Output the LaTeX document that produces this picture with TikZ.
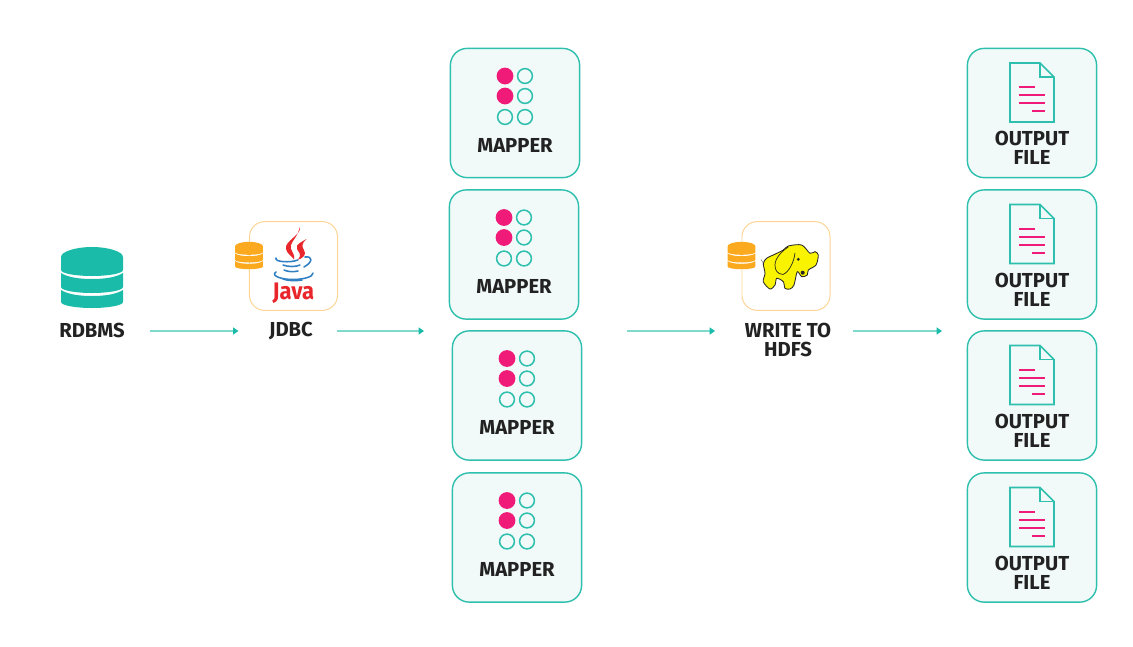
\documentclass[tikz,border=0pt]{standalone}
\usepackage{fontspec}
\setmainfont{Fira Sans}
\usetikzlibrary{arrows.meta}
\definecolor{tealdark}{HTML}{1ABCA9}
\definecolor{tealline}{HTML}{2EBFAE}
\definecolor{tealpale}{HTML}{7FD9CD}
\definecolor{tilefill}{HTML}{F1FAF8}
\definecolor{pinkdot}{HTML}{F01A78}
\definecolor{orangedb}{HTML}{FBA91F}
\definecolor{orangeline}{HTML}{FCD594}
\definecolor{labeltext}{HTML}{222222}
\definecolor{javared}{HTML}{E8262B}
\definecolor{javablue}{HTML}{2F80C2}
\definecolor{hadoopyellow}{HTML}{F9F300}
\tikzset{
    tile/.style={draw=tealline,fill=tilefill,line width=1pt,rounded corners=0.42cm,minimum width=3.23cm,minimum height=3.23cm,inner sep=0pt},
    logotile/.style={draw=orangeline,fill=white,line width=0.7pt,rounded corners=0.38cm,minimum width=2.2cm,minimum height=2.22cm,inner sep=0pt},
    tilelabel/.style={font=\fontsize{14.4}{13.5}\selectfont\bfseries,text=labeltext,align=center,inner sep=0pt},
    flow/.style={draw=tealpale,line width=0.9pt,-{Triangle[length=3.8pt,width=5pt,color=tealdark]}},
    dot/.style={draw=tealline,line width=1.1pt},
    javacup/.style={draw=javablue,line width=1.1pt,line cap=round},
    dbicon/.pic={
        \fill[pic actions] (-31,-20.5) .. controls (-31,-26) and (-16,-30.5) .. (0,-30.5) .. controls (16,-30.5) and (31,-26) .. (31,-20.5) -- (31,-7.5) .. controls (31,-4) and (16,-1.5) .. (0,-1.5) .. controls (-16,-1.5) and (-31,-4) .. (-31,-7.5) -- cycle;
        \fill[pic actions] (-31,-4.5) .. controls (-24,0) and (-12,1.5) .. (0,1.5) .. controls (12,1.5) and (24,0) .. (31,-4.5) -- (31,9.5) .. controls (31,13) and (16,15.5) .. (0,15.5) .. controls (-16,15.5) and (-31,13) .. (-31,9.5) -- cycle;
        \fill[pic actions] (-31,12.5) .. controls (-24,17) and (-12,18.5) .. (0,18.5) .. controls (12,18.5) and (24,17) .. (31,12.5) -- (31,24.5) .. controls (31,28) and (16,30.5) .. (0,30.5) .. controls (-16,30.5) and (-31,28) .. (-31,24.5) -- cycle;
    },
    mappericon/.pic={
        \fill[pinkdot] (-10,-37) circle (8.4);
        \fill[pinkdot] (-10,-17) circle (8.4);
        \draw[dot] (10,-37) circle (7.4);
        \draw[dot] (10,-17) circle (7.4);
        \draw[dot] (-10,4) circle (7.4);
        \draw[dot] (10,4) circle (7.4);
    },
    fileicon/.pic={
        \draw[dot,line join=miter] (-22,-50) -- (8,-50) -- (22,-36) -- (22,9) -- (-22,9) -- cycle;
        \draw[dot,line join=miter] (8,-50) -- (8,-36) -- (22,-36);
        \fill[pinkdot] (-13,-27) rectangle (3,-25);
        \fill[pinkdot] (-13,-19) rectangle (13,-17);
        \fill[pinkdot] (-13,-11) rectangle (13,-9);
        \fill[pinkdot] (0,-3) rectangle (13,-1);
    }
}
\begin{document}
\begin{tikzpicture}[x=0.025cm,y=-0.025cm]
    \useasboundingbox (0,0) rectangle (1133,646);
    \pic[fill=tealdark] at (92,277.5) {dbicon};
    \node[tilelabel] (rdbmslabel) at (92,330) {RDBMS};

    \node[logotile] (jdbc) at (293.5,266) {};
    \pic[fill=orangedb,scale=0.45] at (249,255.5) {dbicon};
    \fill[javared] (300,226.5) .. controls (302,235) and (284,241) .. (286,249) .. controls (287,254) and (292,256) .. (294,259.5) .. controls (296,254) and (289,250) .. (291,245) .. controls (292,241) and (298,236) .. (300,226.5) -- cycle;
    \fill[javared] (306.5,239) .. controls (302,242) and (295,244) .. (297,249) .. controls (298,252) and (303,254) .. (297.5,260) .. controls (303,258) and (307,255) .. (304,250) .. controls (302,247) and (301,244) .. (306.5,239) -- cycle;
    \draw[javacup] (276,258) .. controls (274,262) and (290,263) .. (298,260);
    \draw[javacup] (283,265) .. controls (288,267) and (296,267) .. (300,265);
    \draw[javacup] (284,270) .. controls (288,272) and (294,272) .. (298,271);
    \draw[javacup] (305,257) .. controls (313,256) and (313,262) .. (304,267);
    \draw[javacup] (276,272) .. controls (270,276) and (283,280) .. (295,279.5) .. controls (304,279) and (313,277) .. (313,273);
    \draw[javacup] (283,279) .. controls (288,281) and (296,281) .. (302,280);
    \node[font=\fontsize{17}{17}\selectfont\bfseries,text=javared,inner sep=0pt,xscale=0.92] (javaword) at (293.5,293) {Java};
    \node[tilelabel] (jdbclabel) at (291,331.5) {JDBC};

    \node[tile] (mapper1) at (515,113) {};
    \node[tile] (mapper2) at (514,254.5) {};
    \node[tile] (mapper3) at (517,395.5) {};
    \node[tile] (mapper4) at (517,537.5) {};
    \pic at (mapper1) {mappericon};
    \pic at (mapper2) {mappericon};
    \pic at (mapper3) {mappericon};
    \pic at (mapper4) {mappericon};
    \node[tilelabel] (mapper1label) at (515,145) {MAPPER};
    \node[tilelabel] (mapper2label) at (514,286) {MAPPER};
    \node[tilelabel] (mapper3label) at (517,427) {MAPPER};
    \node[tilelabel] (mapper4label) at (517,569) {MAPPER};

    \node[logotile] (hdfs) at (786,266) {};
    \pic[fill=orangedb,scale=0.45] at (741.5,255.5) {dbicon};
    \draw[black!85,line width=0.6pt,fill=hadoopyellow] plot[smooth cycle,tension=0.5] coordinates {(763.3,263.3) (767,258) (773.3,255) (783.3,250) (788.3,246) (801.7,245) (810,253.3) (815,251.7) (818.3,255) (816,265) (808.3,270) (807.3,275) (801.7,276.7) (797.3,271.7) (794,285) (790,289) (785,288.3) (783.3,281.7) (776.7,278.3) (775,285) (770,289) (763.3,281.7) (765,273.3)};
    \draw[black!85,line width=0.5pt] (788.3,247) .. controls (782,251) and (775,258) .. (775,265) .. controls (775,270) and (777,274) .. (783,274.5) .. controls (789,272) and (794,262) .. (795,253);
    \fill[black!85] (798.3,259.3) circle (1.6);
    \fill[black!85] (802.7,272.7) circle (2);
    \draw[black!50,line width=0.4pt] (763.3,263) -- (761,259.5);
    \node[tilelabel] (hdfslabel) at (788,339.5) {WRITE TO\\HDFS};

    \node[tile] (file1) at (1032,113) {};
    \node[tile] (file2) at (1032,254.5) {};
    \node[tile] (file3) at (1032,395.5) {};
    \node[tile] (file4) at (1032,537.5) {};
    \pic at (file1) {fileicon};
    \pic at (file2) {fileicon};
    \pic at (file3) {fileicon};
    \pic at (file4) {fileicon};
    \node[tilelabel] (file1label) at (1032,147.5) {OUTPUT\\FILE};
    \node[tilelabel] (file2label) at (1032,289.5) {OUTPUT\\FILE};
    \node[tilelabel] (file3label) at (1032,430.5) {OUTPUT\\FILE};
    \node[tilelabel] (file4label) at (1032,572.5) {OUTPUT\\FILE};

    \coordinate (mapperin) at (424,331);
    \coordinate (mapperout) at (627,331);
    \coordinate (filein) at (942,331);
    \draw[flow,shorten <=0.62cm,shorten >=0.76cm] (rdbmslabel.east |- mapperin) -- (jdbclabel.west |- mapperin);
    \draw[flow,shorten <=0.6cm] (jdbclabel.east |- mapperin) -- (mapperin);
    \draw[flow,shorten >=0.74cm] (mapperout) -- (hdfslabel.west |- mapperout);
    \draw[flow,shorten <=0.55cm] (hdfslabel.east |- mapperout) -- (filein);
\end{tikzpicture}
\end{document}
